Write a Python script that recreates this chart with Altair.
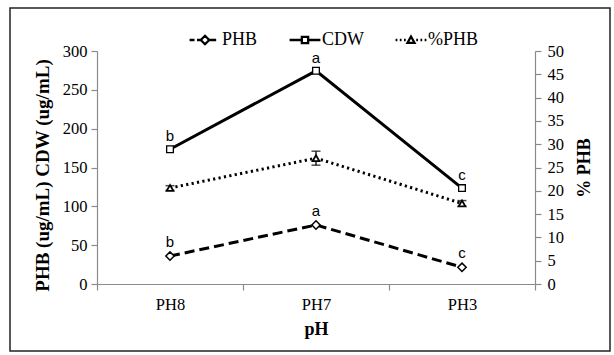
import altair as alt
import pandas as pd

# ---- data ----
ph_levels = ["PH8", "PH7", "PH3"]
phb_vals = [36.0, 76.0, 21.5]          # PHB (ug/mL), left axis
cdw_vals = [173.5, 274.5, 123.5]       # CDW (ug/mL), left axis
pct_phb_vals = [20.6, 27.0, 17.3]      # % PHB, right axis
pct_phb_err = [0.5, 1.5, 0.6]
cdw_letters = ["b", "a", "c"]
phb_letters = ["b", "a", "c"]
left_ticks = [0, 50, 100, 150, 200, 250, 300]
right_ticks = [0, 5, 10, 15, 20, 25, 30, 35, 40, 45, 50]
legend_names = ["PHB", "CDW", "%PHB"]

df = pd.DataFrame({
    "pH": ph_levels,
    "PHB": phb_vals,
    "CDW": cdw_vals,
    "pct": pct_phb_vals,
    "lo": [v - e for v, e in zip(pct_phb_vals, pct_phb_err)],
    "hi": [v + e for v, e in zip(pct_phb_vals, pct_phb_err)],
    "cdw_letter": cdw_letters,
    "phb_letter": phb_letters,
})

SERIF = "Liberation Serif"
SANS = "Liberation Sans"

x_enc = alt.X(
    "pH:N", sort=ph_levels,
    scale=alt.Scale(type="band", paddingInner=0, paddingOuter=0),
    axis=alt.Axis(title="pH", tickBand="extent", labelAngle=0, tickSize=6,
                  labelPadding=6, titlePadding=8),
)

left_axis = alt.Axis(title="PHB (ug/mL)  CDW (ug/mL)", values=left_ticks, grid=False,
                     tickSize=6, labelPadding=4, titlePadding=10, titleFontSize=19,
                     titleY=124)
left_scale = alt.Scale(domain=[0, 300])
right_axis = alt.Axis(title="% PHB", orient="right", values=right_ticks, grid=False,
                      tickSize=6, labelPadding=6, titlePadding=12, titleAngle=270,
                      titleBaseline="top")
right_scale = alt.Scale(domain=[0, 50])

base = alt.Chart(df)

def ly(field):
    return alt.Y(f"{field}:Q", scale=left_scale, axis=left_axis)

def ry(field):
    return alt.Y(f"{field}:Q", scale=right_scale, axis=right_axis)

border = alt.Chart(pd.DataFrame({"k": [0]})).mark_rect(
    fillOpacity=0, stroke="#222222", strokeWidth=1.5
).encode(x=alt.value(-87), x2=alt.value(513), y=alt.value(-43), y2=alt.value(300))

line_cdw = base.mark_line(color="black", strokeWidth=3).encode(x=x_enc, y=ly("CDW"))
line_phb = base.mark_line(color="black", strokeWidth=3, strokeDash=[10, 5]).encode(x=x_enc, y=ly("PHB"))
pts_cdw = base.mark_point(shape="square", size=45, filled=True, fill="white", stroke="black",
                          strokeWidth=1.3, opacity=1).encode(x=x_enc, y=ly("CDW"))
pts_phb = base.mark_point(shape="diamond", size=70, filled=True, fill="white", stroke="black",
                          strokeWidth=1.5, opacity=1).encode(x=x_enc, y=ly("PHB"))
txt_cdw = base.mark_text(font=SANS, fontSize=15, dy=-13, color="black").encode(
    x=x_enc, y=ly("CDW"), text="cdw_letter:N")
txt_phb = base.mark_text(font=SANS, fontSize=15, dy=-14, color="black").encode(
    x=x_enc, y=ly("PHB"), text="phb_letter:N")

# legend symbols: line style + marker, as custom SVG paths
path_phb = ("M-2.2,0H-1.5M-1.15,0H-0.6M0.6,0H1.6"
            "M0,-0.6L0.6,0L0,0.6L-0.6,0Z")
path_cdw = "M-2.2,0H-0.45M0.45,0H2.2M-0.45,-0.45H0.45V0.45H-0.45Z"
path_pct = ("M-2.2,0H-1.95M-1.6,0H-1.35M-1.0,0H-0.75M0.75,0H1.0M1.35,0H1.6M1.95,0H2.2"
            "M0,-0.5L0.5,0.4H-0.5Z")

legend_df = pd.DataFrame({"series": legend_names, "pH": ph_levels, "v": [0, 0, 0]})
legend_layer = alt.Chart(legend_df).transform_filter("false").mark_point(
    filled=False, color="black", opacity=1
).encode(
    x=x_enc, y=alt.Y("v:Q", scale=left_scale, axis=left_axis),
    shape=alt.Shape("series:N",
                    scale=alt.Scale(domain=legend_names, range=[path_phb, path_cdw, path_pct]),
                    legend=alt.Legend(orient="none", legendX=99, legendY=-20,
                                      direction="horizontal", title=None,
                                      symbolSize=196, symbolStrokeWidth=2.3,
                                      symbolStrokeColor="black", symbolOpacity=1,
                                      labelFont=SERIF, labelFontSize=18, labelColor="black",
                                      labelOffset=8, columnPadding=27, padding=0)),
)

left = alt.layer(border, line_cdw, line_phb, pts_cdw, pts_phb, txt_cdw, txt_phb, legend_layer)

line_pct = base.mark_line(color="black", strokeWidth=3, strokeDash=[2.2, 3.3]).encode(
    x=x_enc, y=ry("pct"))
err_rule = base.mark_rule(color="black", strokeWidth=1.3).encode(x=x_enc, y=ry("lo"), y2="hi:Q")
err_lo = base.mark_tick(orient="horizontal", size=9, thickness=1.5, color="black").encode(
    x=x_enc, y=ry("lo"))
err_hi = base.mark_tick(orient="horizontal", size=9, thickness=1.5, color="black").encode(
    x=x_enc, y=ry("hi"))
pts_pct = base.mark_point(shape="triangle-up", size=45, filled=True, fill="white", stroke="black",
                          strokeWidth=1.8, opacity=1).encode(x=x_enc, y=ry("pct"))

right = alt.layer(line_pct, err_rule, err_lo, err_hi, pts_pct)

chart = alt.layer(left, right).resolve_scale(y="independent").properties(
    width=438, height=233,
    autosize=alt.AutoSizeParams(type="none"),
    padding={"left": 97, "top": 51, "right": 79, "bottom": 71},
    background="white",
).configure_view(stroke=None).configure_axis(
    labelFont=SERIF, labelFontSize=16.5, labelColor="black",
    titleFont=SERIF, titleFontSize=18, titleFontWeight="bold", titleColor="black",
    domainColor="#8a8a8a", tickColor="#8a8a8a", domainWidth=1.2, tickWidth=1.2,
)

chart.save("out.html", embed_options={"renderer": "svg", "actions": False})
